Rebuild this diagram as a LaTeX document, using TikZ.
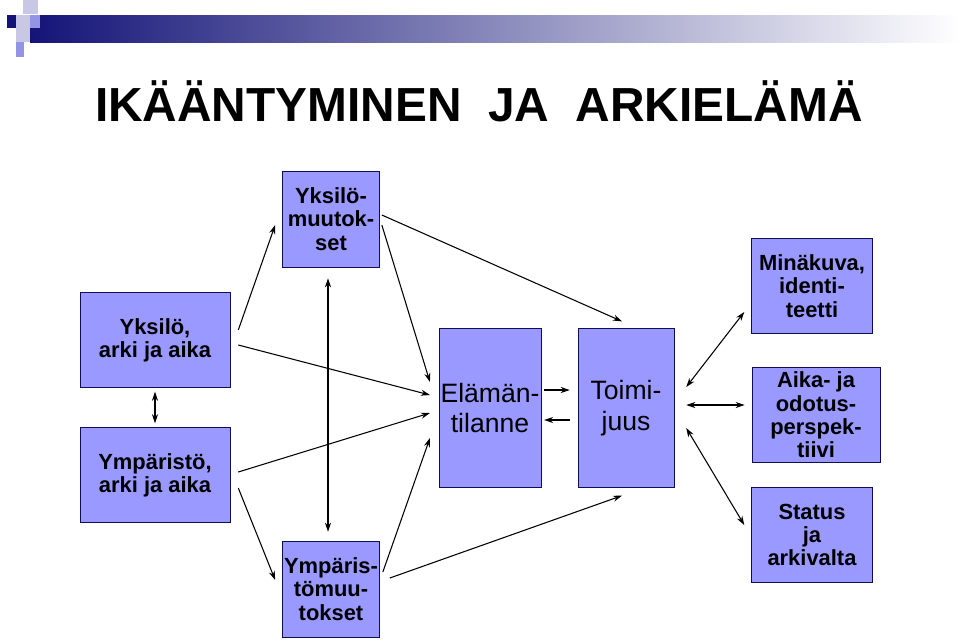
\documentclass[tikz,border=0pt]{standalone}
\usepackage{fontspec}
\setmainfont{Liberation Sans}
\usetikzlibrary{arrows.meta, calc, positioning}
\definecolor{lilac}{RGB}{153,153,255}
\definecolor{navy}{RGB}{20,20,120}
\definecolor{pale}{RGB}{200,200,230}
\tikzstyle{blocksmall} = [rectangle, text centered, draw=navy!70!black, fill=lilac, font=\bfseries\fontsize{16.5}{17.5}\selectfont, align=center, inner sep=1pt]
\tikzstyle{blockbig} = [rectangle, text centered, draw=navy!70!black, fill=lilac, font=\fontsize{20}{23}\selectfont, align=center, inner sep=1pt]
\tikzstyle{arrow} = [thick,-{Stealth[length=2.4mm,width=1.6mm]}]
\tikzstyle{twoway} = [thick,{Stealth[length=2.4mm,width=1.6mm]}-{Stealth[length=2.4mm,width=1.6mm]}]

\begin{document}
\begin{tikzpicture}[x=0.02646cm, y=-0.02646cm]
\useasboundingbox (0,0) rectangle (960,640);

% header bar
\shade[left color=navy, right color=white] (30,15) rectangle (960,42);
\fill[pale] (23,0) rectangle (38,14);
\fill[navy] (7,15) rectangle (16,28);
\fill[pale] (16,15) rectangle (30,28);
\fill[lilac!80!gray] (30,15) rectangle (40,28);
\fill[pale] (16,28) rectangle (30,42);
\fill[lilac!80!gray] (16,42) rectangle (24,57);

\node (title) at (479,101) {\bfseries\fontsize{36}{38}\selectfont IKÄÄNTYMINEN\ \ JA\ \ ARKIELÄMÄ};

\node (yksilo) [blocksmall, minimum width=3.97cm, minimum height=2.51cm] at (155,340) {Yksilö,\\arki ja aika};
\node (ymparisto) [blocksmall, minimum width=3.97cm, minimum height=2.51cm] at (155,475) {Ympäristö,\\arki ja aika};
\node (ymuutos) [blocksmall, minimum width=2.57cm, minimum height=2.54cm] at (331,219) {Yksilö-\\muutok-\\set};
\node (emuutos) [blocksmall, minimum width=2.57cm, minimum height=2.54cm] at (331,589) {Ympäris-\\tömuu-\\tokset};
\node (elama) [blockbig, minimum width=2.54cm, minimum height=4.2cm] at (490,408) {Elämän-\\tilanne};
\node (toimi) [blockbig, minimum width=2.54cm, minimum height=4.2cm] at (626,408) {Toimi-\\juus};
\node (mina) [blocksmall, minimum width=3.2cm, minimum height=2.51cm] at (812,286) {Minäkuva,\\identi-\\teetti};
\node (aika) [blocksmall, minimum width=3.39cm, minimum height=2.51cm] at (816,415) {Aika- ja\\odotus-\\perspek-\\tiivi};
\node (status) [blocksmall, minimum width=3.2cm, minimum height=2.51cm] at (812,535) {Status\\ja\\arkivalta};

\draw [twoway] ($(yksilo.south)+(0,4)$) -- ($(ymparisto.north)+(0,-4)$);
\draw [arrow] ($(yksilo.east)+(8,-10)$) -- ($(ymuutos.west)+(-7,6)$);
\draw [arrow] ($(yksilo.east)+(8,5)$) -- ($(elama.west)+(-9,-13)$);
\draw [arrow] ($(ymparisto.east)+(8,-3)$) -- ($(elama.west)+(-9,5)$);
\draw [arrow] ($(ymparisto.east)+(8,13)$) -- ($(emuutos.west)+(-7,-9)$);
\draw [arrow] ($(ymuutos.east)+(2,-4)$) -- ($(toimi.north)+(-4,-7)$);
\draw [arrow] ($(ymuutos.east)+(2,6)$) -- ($(elama.west)+(-9,-26)$);
\draw [twoway] ($(ymuutos.south)+(-3,11)$) -- ($(emuutos.north)+(-3,-9)$);
\draw [arrow] ($(emuutos.east)+(3,-17)$) -- ($(elama.west)+(-9,30)$);
\draw [arrow] ($(emuutos.east)+(10,-11)$) -- ($(toimi.south)+(-4,8)$);
\draw [arrow] ($(elama.east)+(3,-18)$) -- ($(toimi.west)+(-8,-18)$);
\draw [arrow] ($(toimi.west)+(-8,12)$) -- ($(elama.east)+(3,12)$);
\draw [twoway] ($(toimi.east)+(12,-21)$) -- ($(mina.west)+(-7,26)$);
\draw [twoway] ($(toimi.east)+(12,-3)$) -- ($(aika.west)+(-7,-10)$);
\draw [twoway] ($(toimi.east)+(12,20)$) -- ($(status.west)+(-7,-10)$);

\end{tikzpicture}
\end{document}
